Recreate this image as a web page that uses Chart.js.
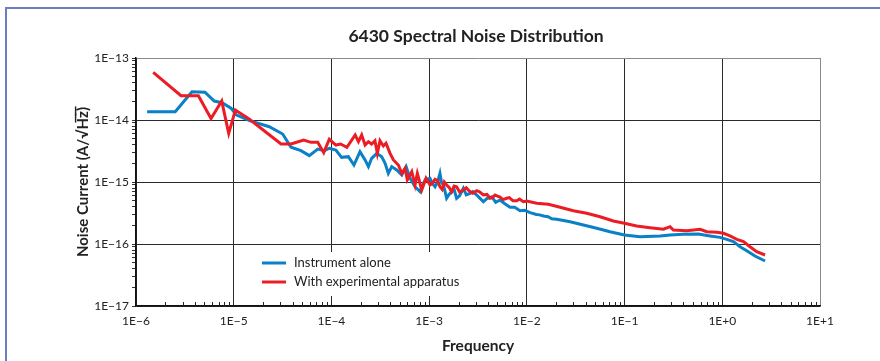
<!DOCTYPE html>
<html>
<head>
<meta charset="utf-8">
<script src="https://cdn.jsdelivr.net/npm/chart.js@4"></script>
<style>
  body { margin: 0; background: #fff; }
  #wrap { position: relative; width: 880px; height: 361px; }
  #frame {
    position: absolute; left: 5px; top: 7px; right: -4px; bottom: -4px;
    border-left: 2px solid #6b7fc0; border-top: 2px solid #6b7fc0;
    pointer-events: none;
  }
</style>
</head>
<body>
<div id="wrap">
  <canvas id="grafico" width="880" height="361"></canvas>
  <div id="frame"></div>
</div>
<script>
// Datos
const blueFreq = [1.30e-6, 2.52e-6, 3.74e-6, 5.08e-6, 6.32e-6, 7.59e-6, 9.38e-6, 1.06e-5, 1.45e-5, 2.31e-5,
  3.17e-5, 3.86e-5, 4.88e-5, 5.94e-5, 7.24e-5, 8.46e-5, 9.52e-5, 1.11e-4, 1.27e-4, 1.49e-4,
  1.70e-4, 1.96e-4, 2.21e-4, 2.39e-4, 2.58e-4, 2.91e-4, 3.27e-4, 3.54e-4, 3.82e-4, 4.14e-4,
  4.66e-4, 5.25e-4, 5.81e-4, 6.37e-4, 7.17e-4, 8.07e-4, 9.08e-4,
  1.02e-3, 1.08e-3, 1.15e-3, 1.22e-3, 1.29e-3, 1.34e-3, 1.40e-3, 1.45e-3, 1.51e-3, 1.60e-3,
  1.70e-3, 1.80e-3, 1.91e-3, 2.05e-3, 2.24e-3, 2.40e-3, 2.62e-3, 2.80e-3, 3.07e-3, 3.30e-3,
  3.59e-3, 3.90e-3, 4.38e-3, 4.80e-3, 5.32e-3, 5.90e-3, 6.73e-3, 7.50e-3, 8.51e-3, 9.50e-3,
  1.08e-2, 1.25e-2, 1.35e-2, 1.48e-2, 1.65e-2, 1.80e-2, 2.02e-2,
  2.77e-2, 3.79e-2, 5.19e-2, 7.10e-2, 9.95e-2,
  1.44e-1, 2.31e-1, 2.92e-1, 4.00e-1, 5.69e-1, 7.50e-1, 9.48e-1, 1.11, 1.30, 1.52,
  1.78, 2.16, 2.74];
const blueNoise = [1.36e-14, 1.36e-14, 2.86e-14, 2.80e-14, 2.02e-14, 1.90e-14, 1.55e-14, 1.21e-14, 9.75e-15, 7.80e-15,
  5.94e-15, 3.63e-15, 3.20e-15, 2.66e-15, 3.40e-15, 3.20e-15, 3.50e-15, 3.28e-15, 2.50e-15, 2.56e-15,
  1.88e-15, 3.08e-15, 2.27e-15, 1.77e-15, 2.41e-15, 2.90e-15, 2.56e-15, 2.00e-15, 1.38e-15, 1.77e-15,
  1.56e-15, 1.30e-15, 1.77e-15, 1.15e-15, 8.40e-16, 6.98e-16, 1.08e-15,
  1.15e-15, 9.5e-16, 8.40e-16, 1.0e-15, 1.38e-15, 9.8e-16, 8.95e-16, 7.2e-16, 5.46e-16, 6.3e-16,
  6.98e-16, 7.6e-16, 5.46e-16, 6.0e-16, 7.91e-16, 6.2e-16, 6.57e-16, 7.0e-16, 6.17e-16, 5.5e-16,
  4.81e-16, 5.4e-16, 5.79e-16, 4.7e-16, 5.13e-16, 4.5e-16, 3.91e-16, 3.9e-16, 3.44e-16, 3.5e-16,
  3.20e-16, 3.0e-16, 2.95e-16, 2.83e-16, 2.75e-16, 2.55e-16, 2.50e-16,
  2.29e-16, 2.02e-16, 1.79e-16, 1.58e-16, 1.40e-16,
  1.31e-16, 1.35e-16, 1.40e-16, 1.43e-16, 1.45e-16, 1.35e-16, 1.28e-16, 1.19e-16, 1.09e-16, 9.04e-17,
  7.80e-17, 6.40e-17, 5.32e-17];

const redFreq = [1.50e-6, 2.89e-6, 4.35e-6, 5.86e-6, 7.54e-6, 8.89e-6, 1.04e-5, 1.45e-5, 3.05e-5, 3.86e-5,
  5.20e-5, 6.18e-5, 7.24e-5, 8.34e-5, 9.51e-5, 1.11e-4, 1.24e-4, 1.44e-4, 1.75e-4, 1.89e-4,
  2.04e-4, 2.21e-4, 2.39e-4, 2.58e-4, 2.79e-4, 2.95e-4, 3.14e-4, 3.40e-4, 3.62e-4, 3.98e-4,
  4.31e-4, 4.84e-4, 5.25e-4, 5.67e-4, 5.98e-4, 6.64e-4, 7.17e-4, 7.57e-4, 8.40e-4, 9.29e-4,
  1.02e-3, 1.08e-3, 1.15e-3, 1.22e-3, 1.29e-3, 1.36e-3, 1.43e-3, 1.51e-3, 1.60e-3, 1.70e-3,
  1.80e-3, 1.91e-3, 2.05e-3, 2.24e-3, 2.40e-3, 2.62e-3, 2.80e-3, 3.07e-3, 3.30e-3, 3.59e-3,
  3.90e-3, 4.20e-3, 4.45e-3, 4.72e-3, 5.00e-3, 5.32e-3, 5.70e-3, 6.22e-3, 6.60e-3, 7.20e-3,
  7.88e-3, 8.40e-3, 9.20e-3, 9.98e-3,
  1.26e-2, 1.66e-2, 2.19e-2, 2.99e-2,
  4.10e-2, 5.61e-2, 7.68e-2, 9.95e-2, 1.33e-1, 1.82e-1, 2.50e-1, 2.92e-1, 3.16e-1, 4.34e-1,
  5.93e-1, 6.94e-1, 8.79e-1, 1.03, 1.20, 1.41, 1.65, 1.92, 2.25, 2.74];
const redNoise = [5.88e-14, 2.47e-14, 2.47e-14, 1.06e-14, 2.02e-14, 6.10e-15, 1.45e-14, 1.03e-14, 4.10e-15, 4.10e-15,
  4.75e-15, 4.36e-15, 4.36e-15, 2.97e-15, 4.89e-15, 3.95e-15, 4.10e-15, 3.63e-15, 5.73e-15, 4.47e-15,
  5.73e-15, 3.95e-15, 4.47e-15, 4.10e-15, 4.63e-15, 2.90e-15, 4.63e-15, 3.81e-15, 4.21e-15, 2.90e-15,
  2.27e-15, 1.88e-15, 1.38e-15, 1.66e-15, 1.08e-15, 1.47e-15, 8.95e-16, 1.38e-15, 7.43e-16, 1.15e-15,
  8.95e-16, 9.6e-16, 1.11e-15, 1.05e-15, 8.40e-16, 7.6e-16, 1.0e-15, 8.95e-16, 8.2e-16, 6.98e-16,
  8.6e-16, 8.40e-16, 6.9e-16, 7.43e-16, 8.1e-16, 6.98e-16, 6.6e-16, 7.24e-16, 6.9e-16, 6.17e-16,
  6.3e-16, 5.46e-16, 5.6e-16, 6.17e-16, 5.9e-16, 5.69e-16, 5.2e-16, 5.46e-16, 5.6e-16, 5.0e-16,
  4.99e-16, 5.3e-16, 4.8e-16, 4.94e-16,
  4.53e-16, 4.36e-16, 3.91e-16, 3.44e-16,
  3.13e-16, 2.75e-16, 2.35e-16, 2.16e-16, 1.95e-16, 1.83e-16, 1.73e-16, 1.90e-16, 1.68e-16, 1.64e-16,
  1.73e-16, 1.58e-16, 1.55e-16, 1.49e-16, 1.35e-16, 1.19e-16, 1.09e-16, 9.04e-17, 7.52e-17, 6.65e-17];

const chartTitle = '6430 Spectral Noise Distribution';
const seriesNames = ['Instrument alone', 'With experimental apparatus'];
const seriesColors = ['#0a80c6', '#ec1c24'];
const xDecades = [-6, -5, -4, -3, -2, -1, 0, 1];
const yDecades = [-17, -16, -15, -14, -13];

function toPoints(xs, ys) {
    return xs.map((x, i) => ({ x: x, y: ys[i] }));
}

function isDecade(v) {
    const l = Math.log10(v);
    return Math.abs(l - Math.round(l)) < 1e-6;
}

// etiqueta tipo 1E−13 / 1E+0
function decadeLabel(v) {
    if (!isDecade(v)) return '';
    const e = Math.round(Math.log10(v));
    return '1E' + (e < 0 ? '\u2212' + (-e) : '+' + e);
}

// marcas 1..9 por década, sin el 1.5 que pone Chart.js
function logTicks(decades) {
    return function(scale) {
        const t = [];
        decades.forEach((e, i) => {
            const last = i === decades.length - 1;
            for (let m = 1; m <= (last ? 1 : 9); m++) {
                t.push({ value: m * Math.pow(10, e), major: m === 1 });
            }
        });
        scale.ticks = t;
    };
}

function gridColor(edge) {
    return function(ctx) {
        if (!ctx.tick || !isDecade(ctx.tick.value)) return 'rgba(0,0,0,0)';
        const v = Math.round(Math.log10(ctx.tick.value));
        return v === edge ? '#8a8a8a' : '#2a2a2a';
    };
}

// título centrado sobre el área, leyenda dentro y marcas menores hacia dentro en X
const innerPlugin = {
    id: 'innerPlugin',
    beforeDatasetsDraw(chart) {
        const ctx = chart.ctx;
        const area = chart.chartArea;
        const xs = chart.scales.x;
        ctx.save();

        ctx.fillStyle = '#222';
        ctx.font = 'bold 17.5px Lato';
        ctx.textAlign = 'center';
        ctx.textBaseline = 'middle';
        ctx.fillText(chartTitle, (area.left + area.right) / 2 - 2, 36);

        ctx.strokeStyle = '#222';
        ctx.lineWidth = 1;
        xs.ticks.forEach(t => {
            if (isDecade(t.value)) return;
            const px = Math.round(xs.getPixelForValue(t.value)) + 0.5;
            ctx.beginPath();
            ctx.moveTo(px, area.bottom);
            ctx.lineTo(px, area.bottom - 4);
            ctx.stroke();
        });

        ctx.fillStyle = '#fff';
        ctx.fillRect(256, 252, 218, 44);
        ctx.font = '13px Lato';
        ctx.textAlign = 'left';
        chart.data.datasets.forEach((ds, i) => {
            const y = 263 + i * 19;
            ctx.strokeStyle = ds.borderColor;
            ctx.lineWidth = 3;
            ctx.beginPath();
            ctx.moveTo(262, y);
            ctx.lineTo(286, y);
            ctx.stroke();
            ctx.fillStyle = '#222';
            ctx.fillText(ds.label, 294, y);
        });
        ctx.restore();
    }
};

document.addEventListener('DOMContentLoaded', function() {
    const ctx = document.getElementById('grafico').getContext('2d');
    new Chart(ctx, {
        type: 'scatter',
        data: {
            datasets: [{
                label: seriesNames[0],
                data: toPoints(blueFreq, blueNoise),
                borderColor: seriesColors[0],
                order: 2
            }, {
                label: seriesNames[1],
                data: toPoints(redFreq, redNoise),
                borderColor: seriesColors[1],
                order: 1
            }]
        },
        options: {
            responsive: false,
            animation: false,
            devicePixelRatio: 1,
            showLine: true,
            elements: {
                point: { radius: 0 },
                line: { borderWidth: 3, tension: 0, borderJoinStyle: 'miter' }
            },
            layout: { padding: { left: 66, right: 60, top: 58, bottom: 0 } },
            plugins: {
                legend: { display: false },
                tooltip: { enabled: false },
                title: { display: false }
            },
            scales: {
                x: {
                    type: 'logarithmic',
                    min: 1e-6,
                    max: 10,
                    afterBuildTicks: logTicks(xDecades),
                    afterFit: s => { s.height = 55; },
                    grid: { color: gridColor(1), drawTicks: false, lineWidth: 1 },
                    border: { color: '#111', width: 1.5 },
                    ticks: {
                        autoSkip: false, maxRotation: 0, padding: 8,
                        color: '#222', font: { family: 'Lato', size: 12 },
                        callback: v => decadeLabel(v)
                    },
                    title: {
                        display: true, text: 'Frequency', color: '#222',
                        font: { family: 'Lato', size: 15.5, weight: 'bold' },
                        padding: { top: 0, bottom: 6 }
                    }
                },
                y: {
                    type: 'logarithmic',
                    min: 1e-17,
                    max: 1e-13,
                    afterBuildTicks: logTicks(yDecades),
                    afterFit: s => { s.width = 70; },
                    grid: { color: gridColor(-13), tickColor: '#333', tickLength: 4, lineWidth: 1 },
                    border: { color: '#111', width: 1.5 },
                    ticks: {
                        autoSkip: false, padding: 3,
                        color: '#222', font: { family: 'Lato', size: 12 },
                        callback: v => decadeLabel(v)
                    },
                    title: {
                        display: true, text: 'Noise Current (A/\u221AH\u0305z\u0305)', color: '#222',
                        font: { family: 'Lato', size: 15, weight: 'bold' },
                        padding: { top: 8, bottom: 0 }
                    }
                }
            }
        },
        plugins: [innerPlugin]
    });
});
</script>
</body>
</html>
